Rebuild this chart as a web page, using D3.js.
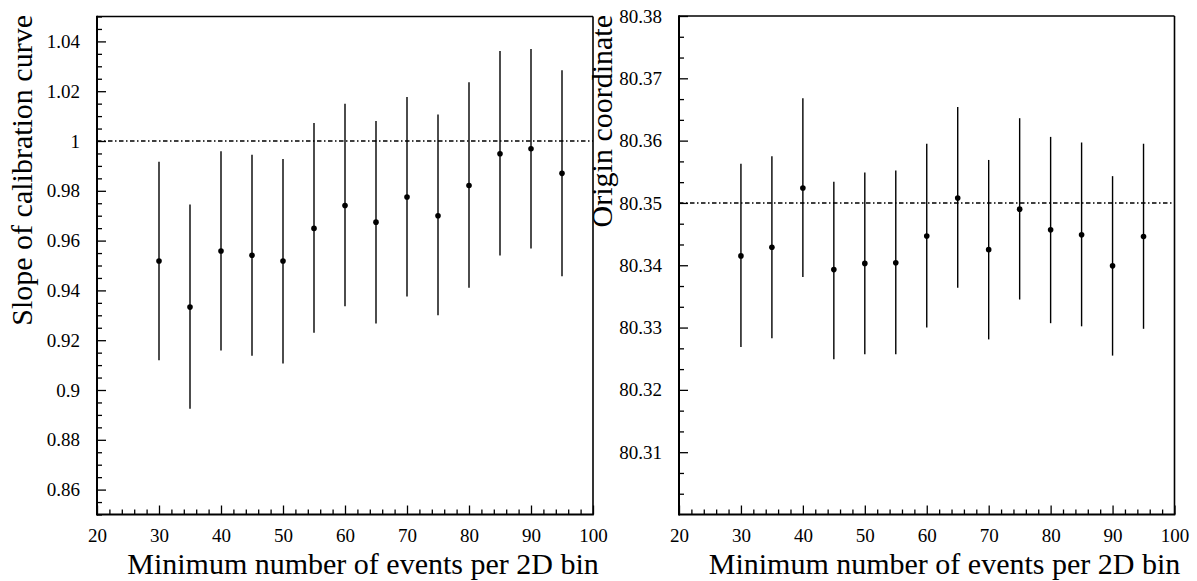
<!DOCTYPE html>
<html>
<head>
<meta charset="utf-8">
<script src="https://cdn.jsdelivr.net/npm/d3@7"></script>
<style>
  html, body { margin: 0; padding: 0; background: #fff; }
  svg { display: block; }
  svg text { font-family: "Liberation Serif", "Times New Roman", serif; fill: #000; }
</style>
</head>
<body>
<svg id="chart" width="1197" height="581"></svg>
<script>
// Minimum number of events per 2D bin
const minEvents = [30, 35, 40, 45, 50, 55, 60, 65, 70, 75, 80, 85, 90, 95];

// Slope of calibration curve: central value, upper and lower error limits
const slopeValue = [0.9518, 0.9333, 0.9558, 0.9541, 0.9518, 0.9649, 0.9741, 0.9674, 0.9775, 0.9700, 0.9821, 0.9949, 0.9969, 0.9870];
const slopeHigh  = [0.9917, 0.9745, 0.9959, 0.9945, 0.9928, 1.0072, 1.0150, 1.0080, 1.0177, 1.0106, 1.0236, 1.0361, 1.0369, 1.0284];
const slopeLow   = [0.9119, 0.8925, 0.9159, 0.9138, 0.9106, 0.9230, 0.9336, 0.9267, 0.9376, 0.9300, 0.9411, 0.9540, 0.9568, 0.9457];

// Origin coordinate: central value, upper and lower error limits
const originValue = [80.3415, 80.3429, 80.3524, 80.3393, 80.3403, 80.3404, 80.3447, 80.3508, 80.3425, 80.3490, 80.3457, 80.3449, 80.3399, 80.3446];
const originHigh  = [80.3563, 80.3575, 80.3668, 80.3534, 80.3549, 80.3552, 80.3595, 80.3654, 80.3569, 80.3636, 80.3606, 80.3597, 80.3543, 80.3595];
const originLow   = [80.3269, 80.3283, 80.3381, 80.3249, 80.3257, 80.3257, 80.3300, 80.3364, 80.3281, 80.3345, 80.3307, 80.3302, 80.3255, 80.3298];

// Axis ticks and reference lines
const xTickLabels = [20, 30, 40, 50, 60, 70, 80, 90, 100];
const slopeTickLabels = [0.86, 0.88, 0.9, 0.92, 0.94, 0.96, 0.98, 1, 1.02, 1.04];
const originTickLabels = [80.31, 80.32, 80.33, 80.34, 80.35, 80.36, 80.37, 80.38];
const slopeReference = 1.0;
const originReference = 80.35;

const xTitle = "Minimum number of events per 2D bin";
const SERIF = "'Liberation Serif', 'Times New Roman', serif";

const svg = d3.select("#chart");

function styleTicks(a) {
  a.select(".domain").remove();
  a.attr("font-family", null).attr("font-size", null);
  a.selectAll("line").attr("stroke", "#000").attr("stroke-width", 1.3);
}

function panel(cfg) {
  const g = svg.append("g");
  const x = d3.scaleLinear().domain([20, 100]).range([cfg.left, cfg.right]);
  const y = d3.scaleLinear().domain(cfg.yDomain).range([cfg.bottom, cfg.top]);

  // minor ticks on the x axis (every 2 units)
  const xMinor = d3.range(20, 100.001, 2).filter(v => v % 10 !== 0);
  g.append("g")
    .attr("transform", `translate(0,${cfg.bottom})`)
    .call(d3.axisBottom(x).tickValues(xMinor).tickSize(-5).tickFormat(""))
    .call(styleTicks)
    .call(a => a.selectAll("text").remove());

  // major ticks and labels on the x axis
  g.append("g")
    .attr("transform", `translate(0,${cfg.bottom})`)
    .call(d3.axisBottom(x).tickValues(xTickLabels).tickSize(-9).tickPadding(14).tickFormat(d3.format("d")))
    .call(styleTicks)
    .call(a => a.selectAll("text").style("font-family", SERIF).style("font-size", "19px"));

  // minor ticks on the y axis
  g.append("g")
    .attr("transform", `translate(${cfg.left},0)`)
    .call(d3.axisLeft(y).tickValues(cfg.yMinor).tickSize(-5).tickFormat(""))
    .call(styleTicks)
    .call(a => a.selectAll("text").remove());

  // major ticks and labels on the y axis
  g.append("g")
    .attr("transform", `translate(${cfg.left},0)`)
    .call(d3.axisLeft(y).tickValues(cfg.yTicks).tickSize(-9).tickPadding(17).tickFormat(d => String(+d.toFixed(2))))
    .call(styleTicks)
    .call(a => a.selectAll("text").style("font-family", SERIF).style("font-size", "19px"));

  // frame: heavier left/bottom axis lines
  g.append("line").attr("x1", cfg.left).attr("x2", cfg.right).attr("y1", cfg.top).attr("y2", cfg.top)
    .attr("stroke", "#000").attr("stroke-width", 1.6);
  g.append("line").attr("x1", cfg.right).attr("x2", cfg.right).attr("y1", cfg.top).attr("y2", cfg.bottom)
    .attr("stroke", "#000").attr("stroke-width", 1.6);
  g.append("line").attr("x1", cfg.left).attr("x2", cfg.left).attr("y1", cfg.top - 0.8).attr("y2", cfg.bottom + 1)
    .attr("stroke", "#000").attr("stroke-width", 2);
  g.append("line").attr("x1", cfg.left).attr("x2", cfg.right + 0.8).attr("y1", cfg.bottom).attr("y2", cfg.bottom)
    .attr("stroke", "#000").attr("stroke-width", 2);

  // dash-dot reference line
  g.append("line")
    .attr("x1", x(20)).attr("x2", x(100))
    .attr("y1", y(cfg.ref)).attr("y2", y(cfg.ref))
    .attr("stroke", "#000").attr("stroke-width", 1.4)
    .attr("stroke-dasharray", "4.5,2.5,1.5,2.5");

  // error bars
  g.append("g").selectAll("line")
    .data(minEvents)
    .join("line")
    .attr("x1", d => x(d)).attr("x2", d => x(d))
    .attr("y1", (d, i) => y(cfg.hi[i]))
    .attr("y2", (d, i) => y(cfg.lo[i]))
    .attr("stroke", "#000").attr("stroke-width", 1.4);

  // central values
  g.append("g").selectAll("circle")
    .data(minEvents)
    .join("circle")
    .attr("cx", d => x(d))
    .attr("cy", (d, i) => y(cfg.val[i]))
    .attr("r", 2.8)
    .attr("fill", "#000");

  // axis titles
  g.append("text")
    .attr("x", cfg.right - 230).attr("y", 574)
    .attr("text-anchor", "middle")
    .style("font-size", "30px")
    .text(xTitle);

  g.append("text")
    .attr("transform", `translate(${cfg.yTitleX},15) rotate(-90)`)
    .attr("text-anchor", "end")
    .style("font-size", "30px")
    .text(cfg.yTitle);
}

// minor ticks: every 0.005 on the slope axis, every 1/3 of 0.01 on the origin axis
const slopeMinorTicks = d3.range(0, 41).filter(i => (i - 2) % 4 !== 0).map(i => 0.85 + i * 0.005);
const originMinorTicks = d3.range(0, 25).filter(i => i % 3 !== 0).map(i => 80.30 + i * 0.01 / 3);

panel({
  left: 97, right: 593, top: 16.5, bottom: 514.5,
  yDomain: [0.85, 1.05],
  yTicks: slopeTickLabels,
  yMinor: slopeMinorTicks,
  ref: slopeReference,
  val: slopeValue, hi: slopeHigh, lo: slopeLow,
  yTitle: "Slope of calibration curve",
  yTitleX: 32
});

panel({
  left: 679, right: 1174.5, top: 16, bottom: 514.5,
  yDomain: [80.30, 80.38],
  yTicks: originTickLabels,
  yMinor: originMinorTicks,
  ref: originReference,
  val: originValue, hi: originHigh, lo: originLow,
  yTitle: "Origin coordinate",
  yTitleX: 612
});
</script>
</body>
</html>
